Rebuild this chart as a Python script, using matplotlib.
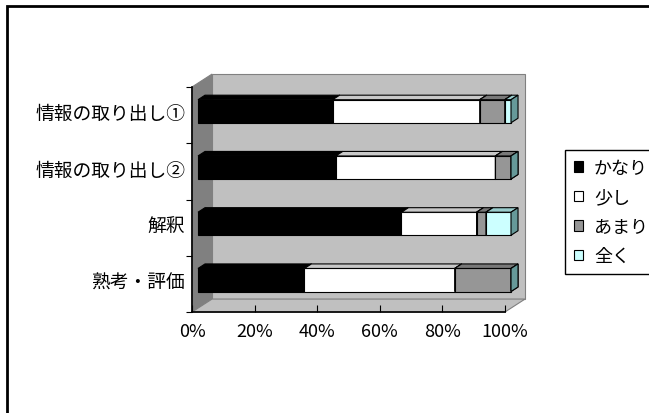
import numpy as np
import matplotlib.pyplot as plt
from matplotlib.patches import Polygon, Rectangle, Patch

plt.rcParams['font.family'] = ['Noto Sans CJK JP', 'DejaVu Sans']

categories = ['情報の取り出し①', '情報の取り出し②', '解釈', '熟考・評価']
series_names = ['かなり', '少し', 'あまり', '全く']
kanari = [43, 44, 65, 34]
sukoshi = [47, 51, 24, 48]
amari = [8, 5, 3, 18]
mattaku = [2, 0, 8, 0]
xticks = [0, 20, 40, 60, 80, 100]

front_colors = ['#000000', '#ffffff', '#969696', '#ccffff']
top_colors = ['#000000', '#c8c8c8', '#787878', '#99cccc']
side_colors = ['#000000', '#a0a0a0', '#606060', '#669999']

W, H = 649, 414
fig = plt.figure(figsize=(W / 100, H / 100), dpi=100)

# outer chart border
fig.patches.append(Rectangle((7 / W, -0.1), 1.2, 1.1 - 7 / H, transform=fig.transFigure,
                             fill=False, ec='black', lw=2))

ax = fig.add_axes([192 / W, (H - 313) / H, 313 / W, 225 / H])
ax.set_xlim(0, 100)
n = len(categories)
ax.set_ylim(n - 0.5, -0.5)
ax.patch.set_visible(False)

# depth vector of the 3d box (data units)
dx, dy = 6.4, -0.23
h = 0.205          # half bar height
t0, t1 = 0.3, 0.65  # bar depth range


def shift(pts, t):
    return [(x + t * dx, y + t * dy) for x, y in pts]


def poly(pts, fc, ec, z, lw=0.8):
    ax.add_patch(Polygon(pts, closed=True, fc=fc, ec=ec, lw=lw, zorder=z, clip_on=False))


# walls and floor
y0, y1 = -0.5, n - 0.5
poly([(0, y0), (0, y1), (dx, y1 + dy), (dx, y0 + dy)], '#808080', '#808080', 0)
poly([(dx, y0 + dy), (100 + dx, y0 + dy), (100 + dx, y1 + dy), (dx, y1 + dy)], '#c0c0c0', '#808080', 0)
poly([(0, y1), (100, y1), (100 + dx, y1 + dy), (dx, y1 + dy)], '#c0c0c0', '#808080', 1)

data = np.array([kanari, sukoshi, amari, mattaku], dtype=float)
cum = np.vstack([np.zeros(n), np.cumsum(data, axis=0)])

for i in range(n):
    for k in range(len(series_names)):
        a, b = cum[k, i], cum[k + 1, i]
        z = 2 + k
        front = shift([(a, i - h), (b, i - h), (b, i + h), (a, i + h)], t0)
        top = shift([(a, i - h), (b, i - h)], t0) + shift([(b, i - h), (a, i - h)], t1)
        side = shift([(b, i - h), (b, i + h)], t0) + shift([(b, i + h), (b, i - h)], t1)
        if b > a:
            poly(front, front_colors[k], 'black', z)
            poly(top, top_colors[k], 'black', z)
        poly(side, side_colors[k], 'black', z)

for s in ['top', 'right']:
    ax.spines[s].set_visible(False)
for s in ['left', 'bottom']:
    ax.spines[s].set_color('black')
    ax.spines[s].set_linewidth(1.2)
    ax.spines[s].set_zorder(10)

ax.set_xticks(xticks)
ax.set_xticklabels([f'{v}%' for v in xticks])
ax.tick_params(axis='x', direction='in', length=5, pad=7, labelsize=13, width=0.8)
# labels sit at the bar centres, boundary ticks on the front edge
ax.set_yticks(np.arange(n) + t0 * dy)
ax.set_yticklabels(categories)
ax.tick_params(axis='y', which='major', length=0, pad=5, labelsize=13.5)
ax.set_yticks(np.arange(n + 1) - 0.5, minor=True)
ax.tick_params(axis='y', which='minor', direction='out', length=4, width=0.8)

handles = [Patch(fc=c, ec='black', lw=0.8) for c in front_colors]
fig.legend(handles, series_names, loc='upper left', bbox_to_anchor=(565 / W, 1 - 151 / H),
           borderaxespad=0, fontsize=13, frameon=True, fancybox=False, framealpha=1,
           edgecolor='black', handlelength=0.5, handleheight=0.5, handletextpad=0.6,
           labelspacing=0.63, borderpad=0.5)

fig.savefig('out.png', dpi=100)
